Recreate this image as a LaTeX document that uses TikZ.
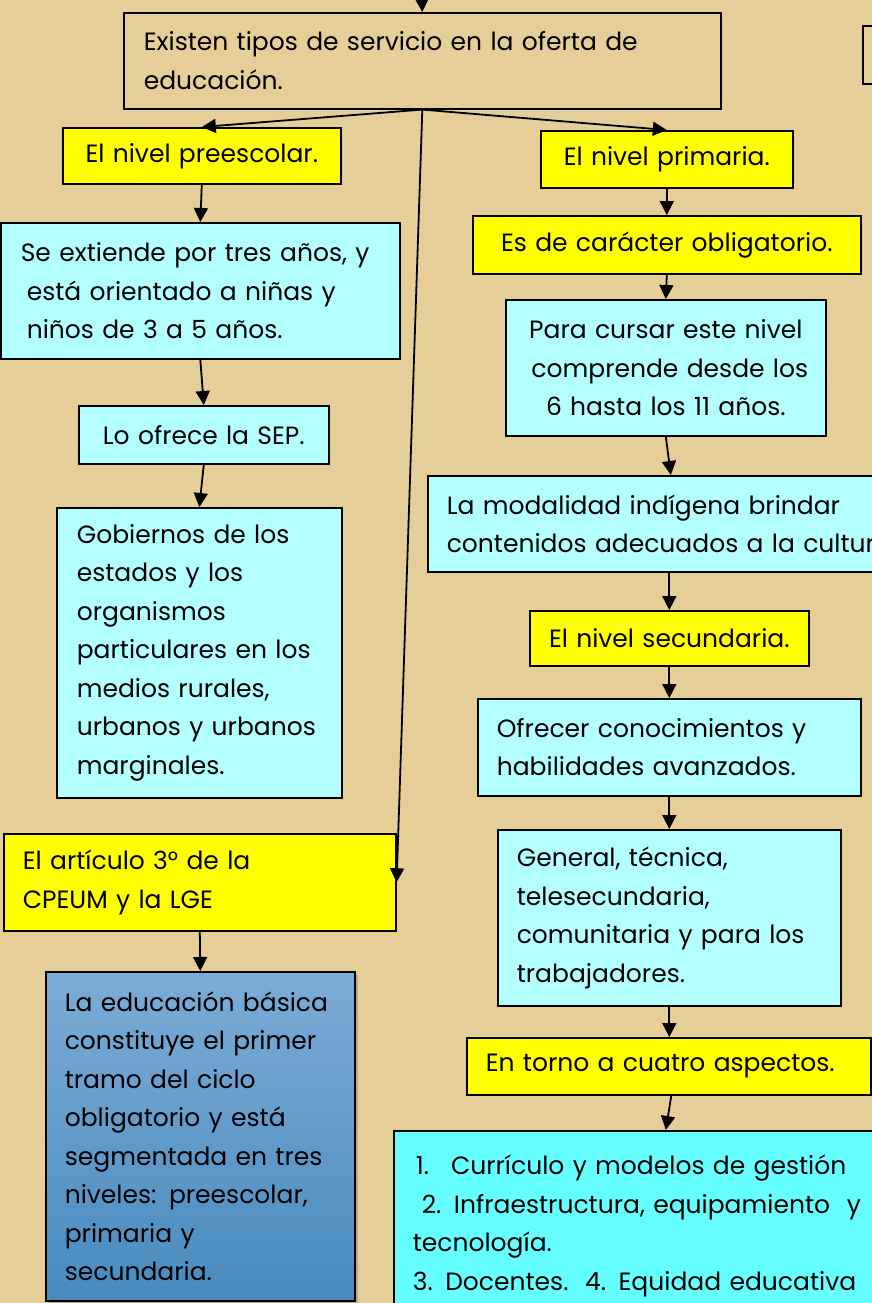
\documentclass[tikz,border=0pt]{standalone}
\usepackage{fontspec}
\setmainfont{Poppins}
\usetikzlibrary{arrows.meta,shadows}

\definecolor{papiro}{RGB}{230,206,152}
\definecolor{amarillo}{RGB}{255,255,0}
\definecolor{celeste}{RGB}{179,255,255}
\definecolor{turquesa}{RGB}{102,255,255}
\definecolor{azularriba}{RGB}{124,172,214}
\definecolor{azulabajo}{RGB}{72,138,190}

\tikzset{
    caja/.style={draw=black, line width=1.6pt, rectangle, anchor=north west,
        inner ysep=0pt, font=\fontsize{25}{38.5}\selectfont},
    amarilla/.style={caja, fill=amarillo},
    clara/.style={caja, fill=celeste},
    flecha/.style={-{Triangle[length=14pt,width=14pt]}, line width=1.8pt},
}

\begin{document}
\begin{tikzpicture}[x=1pt,y=-1pt]
    \useasboundingbox (0,0) rectangle (872,1303);
    \clip (0,0) rectangle (872,1303);
    \fill[papiro] (0,0) rectangle (872,1303);

    % cajas de arriba
    \coordinate (entrada) at (421.5,-10);
    \node[caja, minimum height=96pt, inner xsep=20pt, text width=557pt, align=left] (tipos) at (123,12)
        {Existen tipos de servicio en la oferta de\\educación.};
    \node[caja, minimum width=60pt, minimum height=58pt] (otra) at (862,25) {};

    % columna izquierda
    \node[amarilla, minimum height=56pt, inner xsep=8pt, text width=262pt, align=center] (pre) at (62,127)
        {El nivel preescolar.};
    \node[clara, minimum height=136pt, inner xsep=20pt, text width=359pt, align=left] (ext) at (0,222)
        {Se extiende por tres años, y\\\hspace*{6pt}está orientado a niñas y\\\hspace*{6pt}niños de 3 a 5 años.};
    \node[clara, minimum height=58pt, inner xsep=8pt, text width=234pt, align=center] (sep) at (78,405)
        {Lo ofrece la SEP.};
    \node[clara, minimum height=290pt, inner xsep=20pt, text width=245pt, align=left] (gob) at (56,507)
        {Gobiernos de los\\estados y los\\organismos\\particulares en los\\medios rurales,\\urbanos y urbanos\\marginales.};
    \node[amarilla, minimum height=97pt, inner xsep=19pt, text width=354pt, align=left] (art) at (3,833)
        {El artículo 3° de la\\CPEUM y la LGE};
    \node[caja, top color=azularriba, bottom color=azulabajo, drop shadow={opacity=0.45},
        minimum height=329pt, inner xsep=19pt, text width=271pt, align=left] (basica) at (45,971)
        {La educación básica\\constituye el primer\\tramo del ciclo\\obligatorio y está\\segmentada en tres\\niveles: preescolar,\\primaria y\\secundaria.};

    % columna derecha
    \node[amarilla, minimum height=57pt, inner xsep=8pt, text width=236pt, align=center] (prim) at (540,130)
        {El nivel primaria.};
    \node[amarilla, minimum height=58pt, inner xsep=8pt, text width=372pt, align=center] (oblig) at (472,215)
        {Es de carácter obligatorio.};
    \node[clara, minimum height=136pt, inner xsep=8pt, text width=304pt, align=center] (cursar) at (505,299)
        {Para cursar este nivel\\\hspace*{8pt}comprende desde los\\6 hasta los 11 años.};
    \node[clara, minimum height=96pt, inner xsep=19pt, text width=448pt, align=left] (indig) at (427,475)
        {La modalidad indígena brindar\\contenidos adecuados a la cultura};
    \node[amarilla, minimum height=55pt, inner xsep=8pt, text width=263pt, align=center] (sec) at (529,610)
        {El nivel secundaria.};
    \node[clara, minimum height=97pt, inner xsep=19pt, text width=345pt, align=left] (ofrecer) at (477,698)
        {Ofrecer conocimientos y\\habilidades avanzados.};
    \node[clara, minimum height=176pt, inner xsep=19pt, text width=305pt, align=left] (general) at (497,829)
        {General, técnica,\\telesecundaria,\\comunitaria y para los\\trabajadores.};
    \node[amarilla, minimum height=57pt, inner xsep=19pt, text width=366pt, align=left] (torno) at (466,1037)
        {En torno a cuatro aspectos.};
    \node[caja, fill=turquesa, minimum height=190pt, inner xsep=19pt, text width=506pt, align=left] (aspectos) at (393,1130)
        {\hspace*{3pt}1.\hspace{22pt}Currículo y modelos de gestión\\\hspace*{9pt}2. Infraestructura, equipamiento\ \ y\\tecnología.\\3. Docentes.\ \ 4. Equidad educativa};

    % conectores
    \draw[flecha] (entrada) -- (tipos.north);
    \draw[flecha] (tipos.south) -- (pre.north);
    \draw[flecha] (tipos.south) -- (prim.north);
    \draw[flecha] (tipos.south) -- (art.east);
    \draw[flecha] (pre.south) -- (ext.north);
    \draw[flecha] (ext.south) -- (sep.north);
    \draw[flecha] (sep.south) -- (gob.north);
    \draw[flecha] (art.south) -- (basica.north);
    \draw[flecha] (prim.south) -- (oblig.north);
    \draw[flecha] (oblig.south) -- (cursar.north);
    \draw[flecha] (cursar.south) -- ([xshift=5pt]cursar.south |- indig.north);
    \draw[flecha] (indig.south -| sec.north) -- (sec.north);
    \draw[flecha] (sec.south) -- (ofrecer.north);
    \draw[flecha] (ofrecer.south) -- (general.north);
    \draw[flecha] (general.south) -- (torno.north -| general.south);
    \draw[flecha] ([xshift=2pt]torno.south -| general.south) -- (aspectos.north);
\end{tikzpicture}
\end{document}
